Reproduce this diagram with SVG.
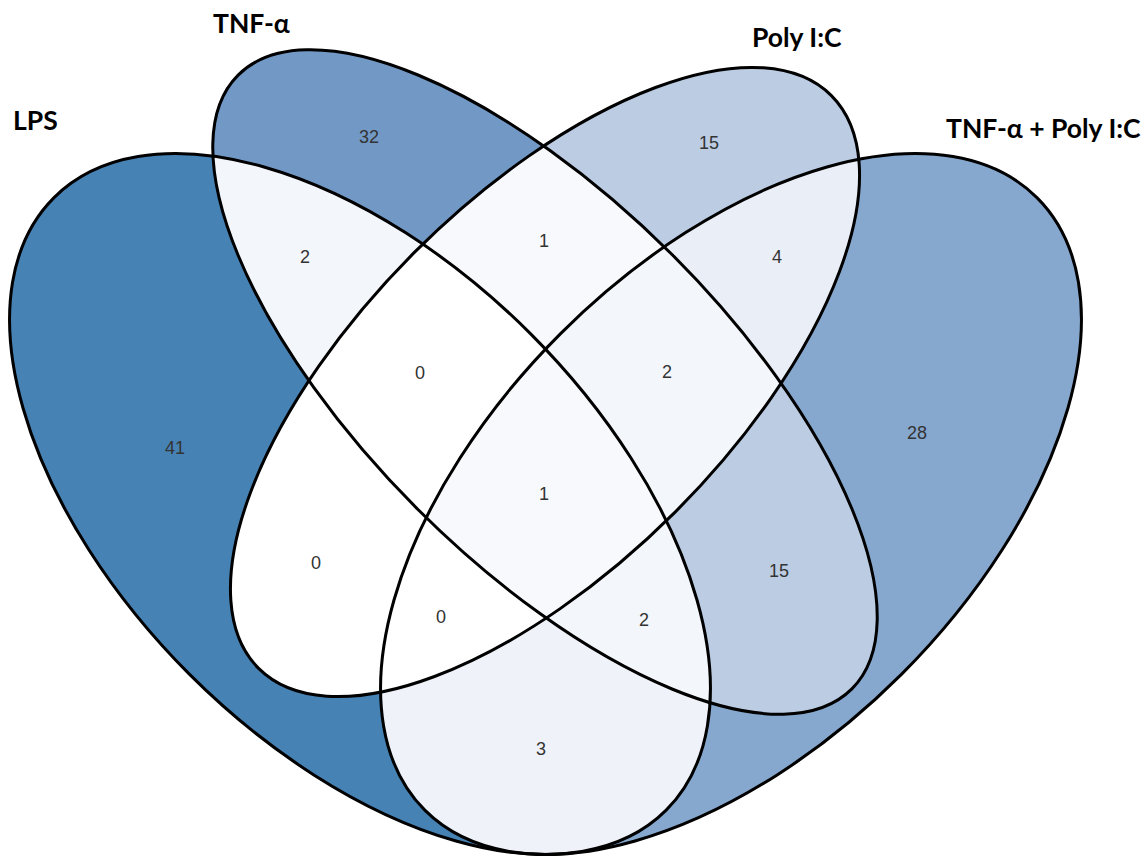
<svg xmlns="http://www.w3.org/2000/svg" width="1147" height="856" viewBox="0 0 1147 856">
<style>
.outline{fill:none;stroke:#000;stroke-width:3}
.set-label{font-family:Lato,"Liberation Sans",sans-serif;font-weight:bold;font-size:26.5px;fill:#000}
.count{font-family:"Liberation Sans",Arial,sans-serif;font-size:18px;fill:#333;text-anchor:middle}
</style>
<defs>
<ellipse id="eL" cx="360" cy="504" rx="433" ry="241" transform="rotate(45 360 504)"/>
<ellipse id="eT" cx="545" cy="382" rx="434" ry="180" transform="rotate(45 545 382)"/>
<ellipse id="eP" cx="545" cy="382" rx="405" ry="184" transform="rotate(-45 545 382)"/>
<ellipse id="eQ" cx="731" cy="504" rx="433" ry="241" transform="rotate(-45 731 504)"/>
<clipPath id="cL"><use href="#eL"/></clipPath>
<clipPath id="cT"><use href="#eT"/></clipPath>
<clipPath id="cP"><use href="#eP"/></clipPath>
<clipPath id="cQ"><use href="#eQ"/></clipPath>
</defs>
<rect width="1147" height="856" fill="#fff"/>
<g id="regions">
<use href="#eL" fill="#4682B4"/>
<use href="#eT" fill="#7299C5"/>
<use href="#eP" fill="#BBCCE3"/>
<use href="#eQ" fill="#86A8CE"/>
<g clip-path="url(#cL)"><use href="#eT" fill="#F3F6FA"/></g>
<g clip-path="url(#cL)"><use href="#eP" fill="#FFFFFF"/></g>
<g clip-path="url(#cL)"><use href="#eQ" fill="#EFF3F9"/></g>
<g clip-path="url(#cT)"><use href="#eP" fill="#F8F9FC"/></g>
<g clip-path="url(#cT)"><use href="#eQ" fill="#BBCCE3"/></g>
<g clip-path="url(#cP)"><use href="#eQ" fill="#EAEFF7"/></g>
<g clip-path="url(#cL)"><g clip-path="url(#cT)"><use href="#eP" fill="#FFFFFF"/></g></g>
<g clip-path="url(#cL)"><g clip-path="url(#cT)"><use href="#eQ" fill="#F3F6FA"/></g></g>
<g clip-path="url(#cL)"><g clip-path="url(#cP)"><use href="#eQ" fill="#FFFFFF"/></g></g>
<g clip-path="url(#cT)"><g clip-path="url(#cP)"><use href="#eQ" fill="#F3F6FA"/></g></g>
<g clip-path="url(#cL)"><g clip-path="url(#cT)"><g clip-path="url(#cP)"><use href="#eQ" fill="#F8F9FC"/></g></g></g>
</g>
<g id="set-lps">
<use href="#eL" class="outline"/>
<text class="set-label" x="13" y="130">LPS</text>
</g>
<g id="set-tnf">
<use href="#eT" class="outline"/>
<text class="set-label" x="213" y="33">TNF-α</text>
</g>
<g id="set-polyic">
<use href="#eP" class="outline"/>
<text class="set-label" x="752" y="47">Poly I:C</text>
</g>
<g id="set-tnf-polyic">
<use href="#eQ" class="outline"/>
<text class="set-label" x="946" y="138">TNF-α + Poly I:C</text>
</g>
<g id="counts">
<text class="count" x="369" y="143">32</text>
<text class="count" x="709" y="149">15</text>
<text class="count" x="305" y="263">2</text>
<text class="count" x="544" y="247">1</text>
<text class="count" x="777" y="263">4</text>
<text class="count" x="420" y="379">0</text>
<text class="count" x="667" y="378">2</text>
<text class="count" x="175" y="454">41</text>
<text class="count" x="917" y="439">28</text>
<text class="count" x="544" y="500">1</text>
<text class="count" x="316" y="569">0</text>
<text class="count" x="441" y="623">0</text>
<text class="count" x="644" y="626">2</text>
<text class="count" x="779" y="577">15</text>
<text class="count" x="541" y="755">3</text>
</g>
</svg>
